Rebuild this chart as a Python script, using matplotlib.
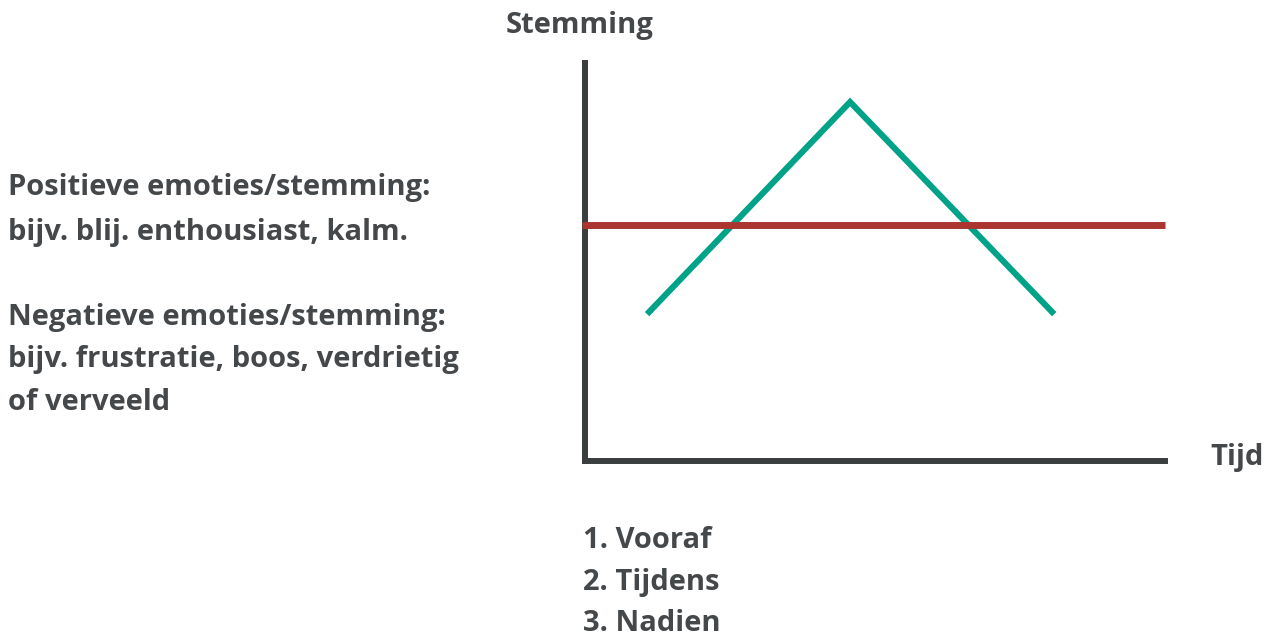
import matplotlib
matplotlib.use("Agg")
import matplotlib.pyplot as plt
from matplotlib import font_manager

# Data
tijd = [1.07, 4.57, 8.09]          # momenten: vooraf, tijdens, nadien
stemming_groen = [3.69, 9.02, 3.69]
stemming_rood = 5.93
left_lines = ["Positieve emoties/stemming:",
              "bijv. blij. enthousiast, kalm.",
              "",
              "Negatieve emoties/stemming:",
              "bijv. frustratie, boos, verdrietig",
              "of verveeld"]
fasen = ["1. Vooraf", "2. Tijdens", "3. Nadien"]

W, H = 1267, 636
fig = plt.figure(figsize=(W / 100, H / 100), dpi=100)
fig.patch.set_facecolor("white")

def fx(px):
    return px / W

def fy(py):
    return 1 - py / H

ax = fig.add_axes([fx(585), fy(461), fx(1165) - fx(585), fy(63) - fy(461)])
ax.set_xlim(0, 10)
ax.set_ylim(0, 10)
ax.set_facecolor("none")

axis_col = "#3b3e3f"
for s in ["top", "right"]:
    ax.spines[s].set_visible(False)
for s in ["left", "bottom"]:
    ax.spines[s].set_color(axis_col)
    ax.spines[s].set_linewidth(4.3)
    ax.spines[s].set_capstyle("projecting")
ax.set_xticks([])
ax.set_yticks([])

ax.plot([-0.052, 10], [stemming_rood, stemming_rood], color="#ab3630", lw=5.0,
        solid_capstyle="butt", zorder=4, clip_on=False)
ax.plot(tijd, stemming_groen, color="#00a388", lw=4.4,
        solid_capstyle="butt", solid_joinstyle="miter", zorder=3)

txt_col = "#45484a"
names = {f.name for f in font_manager.fontManager.ttflist}
fam = ["Open Sans", "DejaVu Sans"] if "Open Sans" in names else ["DejaVu Sans"]
font = dict(family=fam, fontsize=21.0, fontweight="bold", color=txt_col)

fig.text(fx(506), fy(33), "Stemming", ha="left", va="baseline", **font)
fig.text(fx(1210), fy(465), "Tijd", ha="left", va="baseline", **font)

left_baselines = [195, 240, 282, 325, 367, 410]
for t, b in zip(left_lines, left_baselines):
    if t:
        fig.text(fx(8), fy(b), t, ha="left", va="baseline", **font)

for t, b in zip(fasen, [548, 590, 631]):
    fig.text(fx(583), fy(b), t, ha="left", va="baseline", **font)

fig.savefig("out.png", dpi=100, facecolor="white")
